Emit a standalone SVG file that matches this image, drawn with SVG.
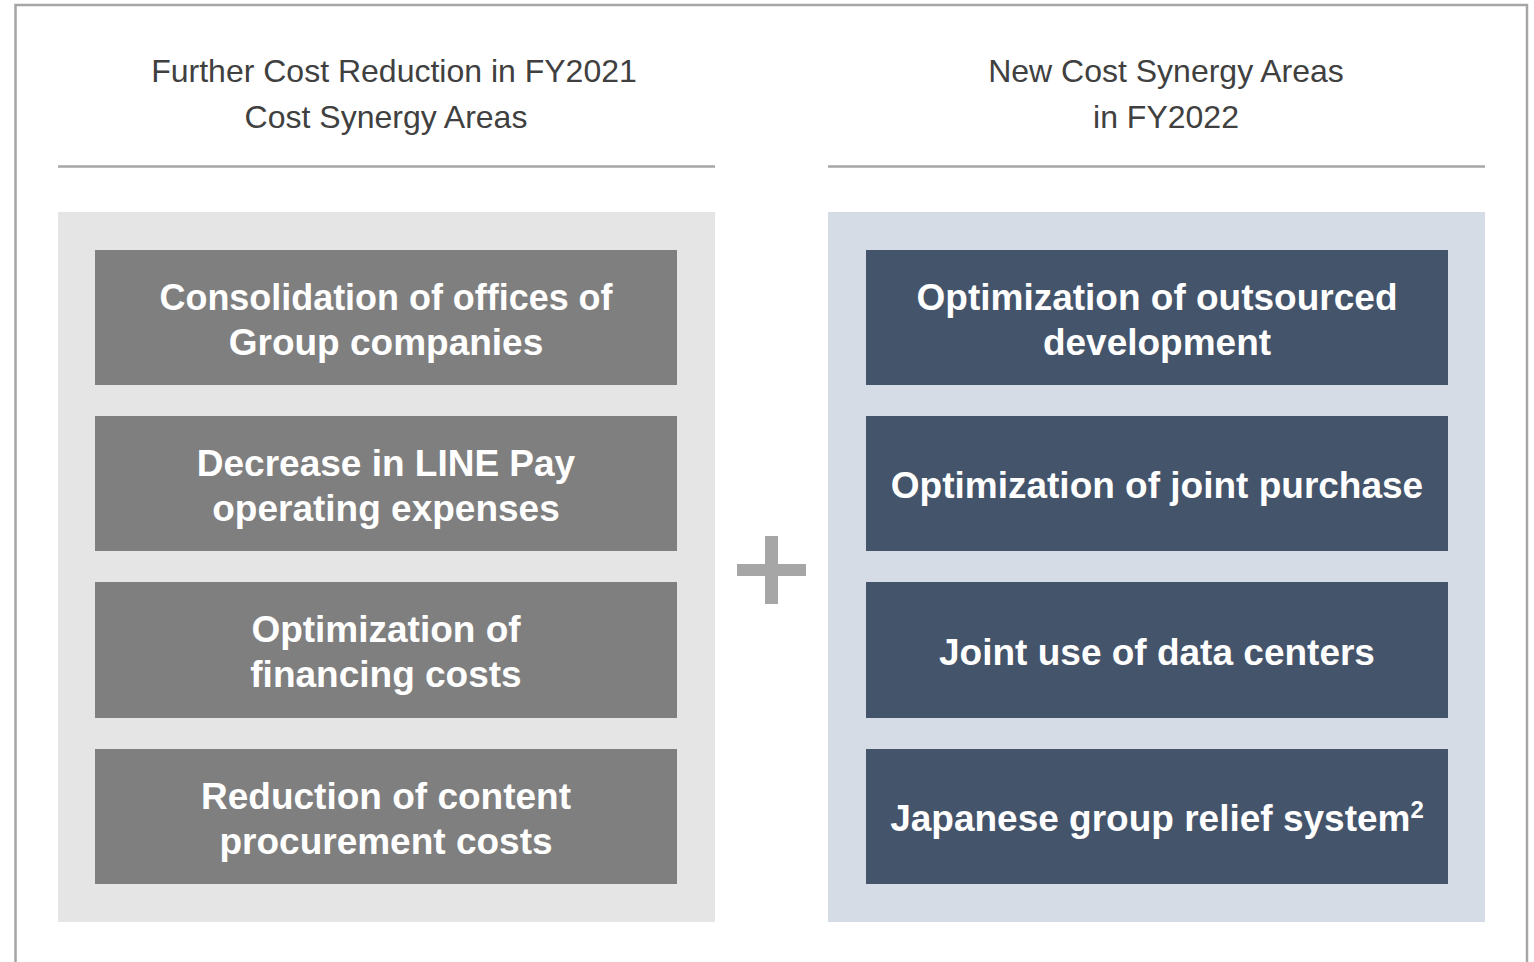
<svg xmlns="http://www.w3.org/2000/svg" width="1534" height="962" viewBox="0 0 1534 962">
<style>
.hdr{font-family:"Liberation Sans",Arial,sans-serif;font-size:32px;fill:#404040;text-anchor:middle}
.bt{font-family:"Liberation Sans",Arial,sans-serif;font-size:37px;font-weight:bold;fill:#ffffff;text-anchor:middle}
.gb{fill:#7f7f7f}
.nb{fill:#44546a}
.rule{stroke:#a6a6a6;stroke-width:2.5}
</style>
<rect width="1534" height="962" fill="#ffffff"/>
<path d="M15.5 970 V5 H1527 V970" fill="none" stroke="#a6a6a6" stroke-width="2.5"/>
<g id="header-left">
<text class="hdr" x="394" y="82">Further Cost Reduction in FY2021</text>
<text class="hdr" x="386" y="128">Cost Synergy Areas</text>
<line class="rule" x1="58" y1="166.5" x2="715" y2="166.5"/>
</g>
<g id="header-right">
<text class="hdr" x="1166" y="82">New Cost Synergy Areas</text>
<text class="hdr" x="1166" y="128">in FY2022</text>
<line class="rule" x1="828" y1="166.5" x2="1485" y2="166.5"/>
</g>
<g id="panel-left">
<rect x="58" y="212" width="657" height="710" fill="#e5e5e5"/>
</g>
<g id="panel-right">
<rect x="828" y="212" width="657" height="710" fill="#d6dce5"/>
</g>
<g id="box-l1"><rect class="gb" x="95" y="250" width="582" height="135"/>
<text class="bt" x="386" y="310" textLength="453" lengthAdjust="spacingAndGlyphs">Consolidation of offices of</text><text class="bt" x="386" y="355">Group companies</text></g>
<g id="box-l2"><rect class="gb" x="95" y="416" width="582" height="135"/>
<text class="bt" x="386" y="476">Decrease in LINE Pay</text><text class="bt" x="386" y="521">operating expenses</text></g>
<g id="box-l3"><rect class="gb" x="95" y="582" width="582" height="136"/>
<text class="bt" x="386" y="642">Optimization of</text><text class="bt" x="386" y="687">financing costs</text></g>
<g id="box-l4"><rect class="gb" x="95" y="749" width="582" height="135"/>
<text class="bt" x="386" y="809">Reduction of content</text><text class="bt" x="386" y="854">procurement costs</text></g>
<g id="box-r1"><rect class="nb" x="866" y="250" width="582" height="135"/>
<text class="bt" x="1157" y="310">Optimization of outsourced</text><text class="bt" x="1157" y="355">development</text></g>
<g id="box-r2"><rect class="nb" x="866" y="416" width="582" height="135"/>
<text class="bt" x="1157" y="498">Optimization of joint purchase</text></g>
<g id="box-r3"><rect class="nb" x="866" y="582" width="582" height="136"/>
<text class="bt" x="1157" y="665">Joint use of data centers</text></g>
<g id="box-r4"><rect class="nb" x="866" y="749" width="582" height="135"/>
<text class="bt" x="1157" y="831">Japanese group relief system<tspan font-size="24" dy="-13">2</tspan></text></g>
<g id="plus">
<rect x="737" y="564" width="69" height="12" fill="#a6a6a6"/>
<rect x="765" y="536" width="13" height="68" fill="#a6a6a6"/>
</g>
<g id="connectors"></g>
</svg>
